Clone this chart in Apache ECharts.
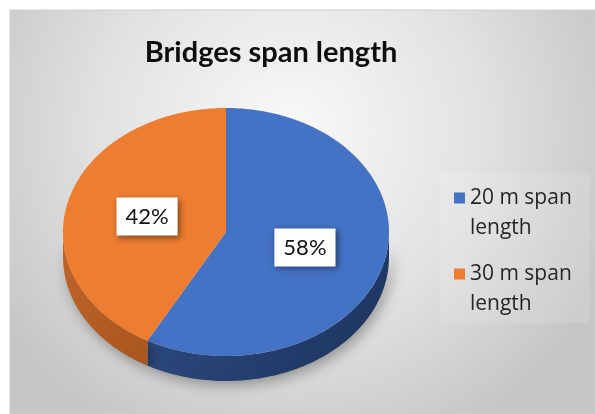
<!DOCTYPE html>
<html>
<head>
<meta charset="utf-8">
<script src="https://cdn.jsdelivr.net/npm/echarts@6/dist/echarts.min.js"></script>
<style>
  html, body { margin: 0; padding: 0; background: #ffffff; }
  #chart { width: 595px; height: 414px; }
</style>
</head>
<body>
<div id="chart"></div>
<script>
// Chart content
const titleText = 'Bridges span length';
const categories = ['20 m span length', '30 m span length'];
const shares = [58, 42];

// Colours: top faces and the darker rim of each slice
const topColors = ['#4472c4', '#ed7d31'];
const sideColors = [['#2f4c84', '#1d335d'], ['#c1662b', '#a8561f']];

const FONT = 'Lato, "Noto Sans", sans-serif';
const LEGEND_FONT = '"Open Sans", Lato, sans-serif';

// Tilted-pie geometry (ellipse of the top face and rim thickness)
const PIE = { cx: 226, cy: 232, rx: 163, ry: 124, depth: 25 };
const total = shares.reduce((a, b) => a + b, 0);

function pt(t, dy) {
  return [PIE.cx + PIE.rx * Math.cos(t), PIE.cy + PIE.ry * Math.sin(t) + (dy || 0)];
}

function arcPoints(a, b, dy) {
  const n = Math.max(2, Math.ceil(Math.abs(b - a) / 0.02));
  const pts = [];
  for (let j = 0; j <= n; j++) pts.push(pt(a + (b - a) * j / n, dy));
  return pts;
}

// Start/end angle of slice i, clockwise from 12 o'clock
function sliceAngles(i, value) {
  let before = 0;
  for (let k = 0; k < i; k++) before += shares[k];
  const start = -Math.PI / 2 + before / total * 2 * Math.PI;
  return [start, start + value / total * 2 * Math.PI];
}

function renderSlice(params, api) {
  const i = params.seriesIndex;
  const value = api.value(0);
  const [start, end] = sliceAngles(i, value);
  const children = [];

  // Rim: only the front half of the ellipse (angles in [0, PI] mod 2PI) is visible
  const ranges = [[0, Math.PI], [2 * Math.PI, 3 * Math.PI]];
  ranges.forEach(([lo, hi]) => {
    const s = Math.max(start, lo), e = Math.min(end, hi);
    if (e > s) {
      const poly = arcPoints(s, e, 0).concat(arcPoints(e, s, PIE.depth));
      children.push({
        type: 'polygon',
        shape: { points: poly },
        style: {
          fill: {
            type: 'linear', x: 0, y: 0, x2: 1, y2: 1,
            colorStops: [
              { offset: 0, color: sideColors[i][0] },
              { offset: 1, color: sideColors[i][1] }
            ]
          },
          shadowBlur: 14,
          shadowColor: 'rgba(0,0,0,0.35)',
          shadowOffsetX: 3,
          shadowOffsetY: 4
        }
      });
    }
  });

  // Top face
  children.push({
    type: 'polygon',
    shape: { points: [[PIE.cx, PIE.cy]].concat(arcPoints(start, end, 0)) },
    style: { fill: topColors[i] }
  });

  // Percentage label in a white box, halfway out along the mid angle
  const mid = (start + end) / 2;
  const lp = [PIE.cx + PIE.rx * 0.5 * Math.cos(mid), PIE.cy + PIE.ry * 0.5 * Math.sin(mid)];
  children.push({
    type: 'text',
    z2: 10,
    style: {
      text: Math.round(value / total * 100) + '%',
      x: lp[0], y: lp[1],
      align: 'center', verticalAlign: 'middle',
      font: '22px ' + FONT,
      fill: '#111111',
      backgroundColor: '#ffffff',
      padding: [8, 9, 8, 9],
      shadowBlur: 6,
      shadowColor: 'rgba(0,0,0,0.45)',
      shadowOffsetX: 2,
      shadowOffsetY: 2
    }
  });

  return { type: 'group', children: children };
}

const chart = echarts.init(document.getElementById('chart'), null, { renderer: 'canvas' });

chart.setOption({
  animation: false,
  graphic: [
    {
      type: 'rect', z: -10,
      shape: { x: 10, y: 10, width: 585, height: 404 },
      style: {
        fill: {
          type: 'radial', x: 0.48, y: 0.3, r: 0.85,
          colorStops: [
            { offset: 0, color: '#f9f9f9' },
            { offset: 0.55, color: '#e2e2e2' },
            { offset: 1, color: '#c6c6c6' }
          ]
        },
        stroke: '#cfcfcf', lineWidth: 1
      }
    },
    {
      type: 'rect', z: -5,
      shape: { x: 440, y: 173, width: 150, height: 150 },
      style: { fill: 'rgba(255,255,255,0.12)' }
    },
    {
      type: 'text', z: 10,
      style: {
        text: titleText,
        x: 271, y: 53,
        align: 'center', verticalAlign: 'middle',
        font: 'bold 29px ' + FONT,
        fill: '#0d0d0d'
      }
    }
  ],
  legend: {
    orient: 'vertical',
    left: 454, top: 153,
    padding: 0,
    itemGap: -14,
    itemWidth: 11, itemHeight: 11,
    icon: 'rect',
    data: categories,
    // leading blank line keeps the marker level with the first text line
    formatter: name => '\n' + name.replace(/ (\S+)$/, '\n$1'),
    textStyle: {
      fontFamily: LEGEND_FONT, fontSize: 21, color: '#262626',
      lineHeight: 30
    }
  },
  series: categories.map((name, i) => ({
    type: 'custom',
    name: name,
    coordinateSystem: 'none',
    silent: true,
    itemStyle: { color: topColors[i] },
    renderItem: renderSlice,
    data: [[shares[i]]]
  }))
});
</script>
</body>
</html>
